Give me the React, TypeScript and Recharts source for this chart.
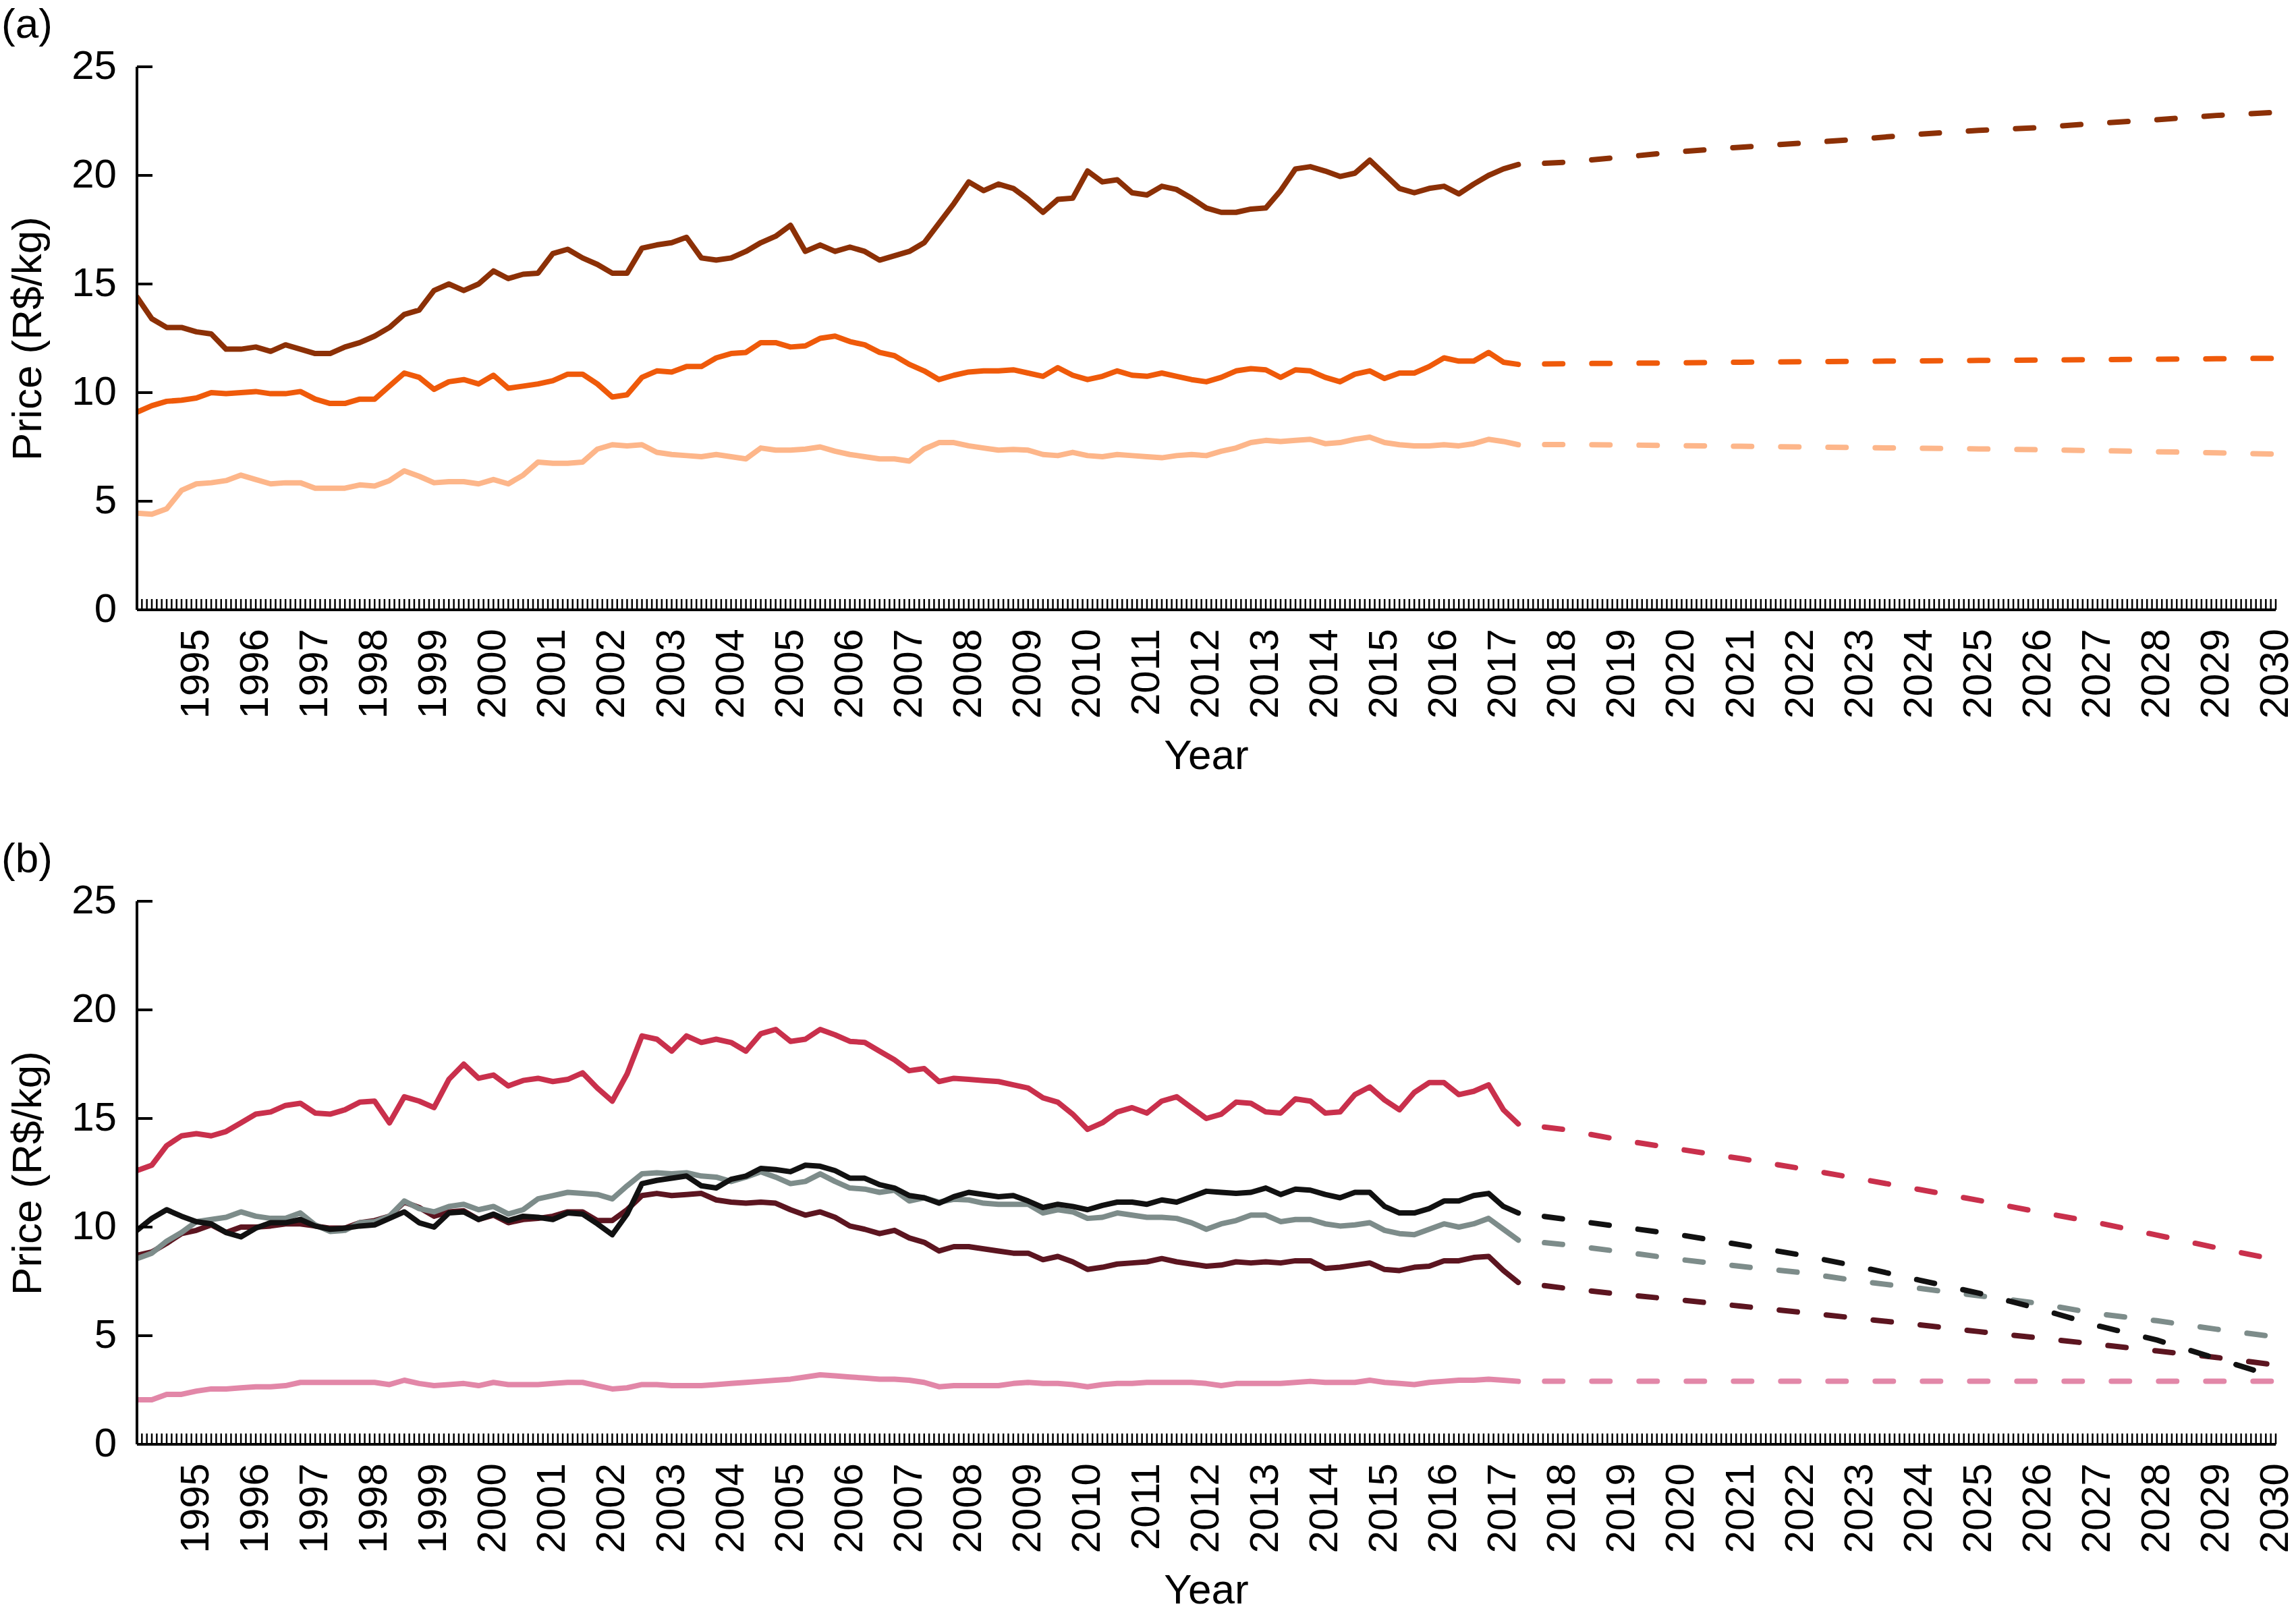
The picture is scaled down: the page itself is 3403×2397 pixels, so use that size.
import React from "react";
import { LineChart, Line, XAxis, YAxis } from "recharts";

// quarterly observations, Jan 1994 .. Apr 2017
const histTimes = Array.from({ length: 94 }, (_, i) => 1994 + i * 0.25);
// projection points (start at last observation, then yearly)
const projTimes = [2017.25, 2018, 2019, 2020, 2021, 2022, 2023, 2024, 2025, 2026, 2027, 2028, 2029, 2030];
const monthTicks = Array.from({ length: 433 }, (_, i) => 1994 + i / 12);
const yTicks = [0, 5, 10, 15, 20, 25];

// panel (a)
const brownHist = [
  14.4, 13.4, 13.0, 13.0, 12.8, 12.7, 12.0, 12.0, 12.1, 11.9, 12.2, 12.0,
  11.8, 11.8, 12.1, 12.3, 12.6, 13.0, 13.6, 13.8, 14.7, 15.0, 14.7, 15.0,
  15.6, 15.25, 15.45, 15.5, 16.4, 16.6, 16.2, 15.9, 15.5, 15.5, 16.65, 16.8,
  16.9, 17.15, 16.2, 16.1, 16.2, 16.5, 16.9, 17.2, 17.7, 16.5, 16.8, 16.5,
  16.7, 16.5, 16.1, 16.3, 16.5, 16.9, 17.8, 18.7, 19.7, 19.3, 19.6, 19.4,
  18.9, 18.3, 18.9, 18.95, 20.2, 19.7, 19.8, 19.2, 19.1, 19.5, 19.35, 18.95,
  18.5, 18.3, 18.3, 18.45, 18.5, 19.3, 20.3, 20.4, 20.2, 19.95, 20.1, 20.7,
  20.05, 19.4, 19.2, 19.4, 19.5, 19.15, 19.6, 20.0, 20.3, 20.5,
];
const brownProj = [20.5, 20.6, 20.84, 21.1, 21.3, 21.48, 21.67, 21.9, 22.07, 22.2, 22.4, 22.56, 22.76, 22.9];

const orangeHist = [
  9.1, 9.4, 9.6, 9.65, 9.75, 10.0, 9.95, 10.0, 10.05, 9.95, 9.95, 10.05,
  9.7, 9.5, 9.5, 9.7, 9.7, 10.3, 10.9, 10.7, 10.15, 10.5, 10.6, 10.4,
  10.8, 10.2, 10.3, 10.4, 10.55, 10.85, 10.85, 10.4, 9.8, 9.9, 10.7, 11.0,
  10.95, 11.2, 11.2, 11.6, 11.8, 11.85, 12.3, 12.3, 12.1, 12.15, 12.5, 12.6,
  12.35, 12.2, 11.85, 11.7, 11.3, 11.0, 10.6, 10.8, 10.95, 11.0, 11.0, 11.05,
  10.9, 10.75, 11.15, 10.8, 10.6, 10.75, 11.0, 10.8, 10.75, 10.9, 10.75, 10.6,
  10.5, 10.7, 11.0, 11.1, 11.05, 10.7, 11.05, 11.0, 10.7, 10.5, 10.85, 11.0,
  10.65, 10.9, 10.9, 11.2, 11.6, 11.45, 11.45, 11.85, 11.4, 11.3,
];
const orangeProj = [11.3, 11.33, 11.35, 11.37, 11.4, 11.42, 11.44, 11.46, 11.48, 11.5, 11.52, 11.54, 11.56, 11.58];

const peachHist = [
  4.45, 4.4, 4.65, 5.5, 5.8, 5.85, 5.95, 6.2, 6.0, 5.8, 5.85, 5.85,
  5.6, 5.6, 5.6, 5.75, 5.7, 5.95, 6.4, 6.15, 5.85, 5.9, 5.9, 5.8,
  6.0, 5.8, 6.2, 6.8, 6.75, 6.75, 6.8, 7.4, 7.6, 7.55, 7.6, 7.25,
  7.15, 7.1, 7.05, 7.15, 7.05, 6.95, 7.45, 7.35, 7.35, 7.4, 7.5, 7.3,
  7.15, 7.05, 6.95, 6.95, 6.85, 7.4, 7.7, 7.7, 7.55, 7.45, 7.35, 7.38,
  7.35, 7.15, 7.1, 7.25, 7.1, 7.05, 7.15, 7.1, 7.05, 7.0, 7.1, 7.15,
  7.1, 7.3, 7.45, 7.7, 7.8, 7.75, 7.8, 7.85, 7.65, 7.7, 7.85, 7.95,
  7.7, 7.6, 7.55, 7.55, 7.6, 7.55, 7.65, 7.85, 7.75, 7.6,
];
const peachProj = [7.6, 7.61, 7.59, 7.56, 7.53, 7.5, 7.47, 7.44, 7.41, 7.37, 7.33, 7.28, 7.23, 7.17];

// panel (b)
const redHist = [
  12.6, 12.85, 13.75, 14.2, 14.3, 14.2, 14.4, 14.8, 15.2, 15.3, 15.6, 15.7,
  15.25, 15.2, 15.4, 15.75, 15.8, 14.8, 16.0, 15.8, 15.5, 16.8, 17.5, 16.85,
  17.0, 16.5, 16.75, 16.85, 16.7, 16.8, 17.1, 16.4, 15.8, 17.05, 18.8, 18.65,
  18.1, 18.8, 18.5, 18.65, 18.5, 18.1, 18.9, 19.1, 18.55, 18.65, 19.1, 18.85,
  18.55, 18.5, 18.1, 17.7, 17.2, 17.3, 16.7, 16.85, 16.8, 16.75, 16.7, 16.55,
  16.4, 15.95, 15.75, 15.2, 14.5, 14.8, 15.3, 15.5, 15.25, 15.8, 16.0, 15.5,
  15.0, 15.2, 15.75, 15.7, 15.3, 15.25, 15.9, 15.8, 15.25, 15.3, 16.1, 16.45,
  15.85, 15.4, 16.2, 16.65, 16.65, 16.1, 16.25, 16.55, 15.4, 14.75,
];
const redProj = [14.75, 14.5, 14.0, 13.57, 13.15, 12.7, 12.22, 11.73, 11.23, 10.7, 10.2, 9.63, 9.05, 8.5];

const blackHist = [
  9.85, 10.4, 10.8, 10.5, 10.25, 10.15, 9.75, 9.55, 9.95, 10.2, 10.2, 10.35,
  10.05, 9.9, 9.95, 10.05, 10.1, 10.4, 10.7, 10.2, 10.0, 10.65, 10.7, 10.35,
  10.6, 10.3, 10.5, 10.45, 10.35, 10.65, 10.6, 10.15, 9.65, 10.6, 12.0, 12.15,
  12.25, 12.35, 11.9, 11.8, 12.2, 12.35, 12.7, 12.65, 12.55, 12.85, 12.8, 12.6,
  12.25, 12.25, 11.95, 11.8, 11.45, 11.35, 11.1, 11.4, 11.6, 11.5, 11.4, 11.45,
  11.2, 10.9, 11.05, 10.95, 10.8, 11.0, 11.15, 11.15, 11.05, 11.25, 11.15, 11.4,
  11.65, 11.6, 11.55, 11.6, 11.8, 11.5, 11.75, 11.7, 11.5, 11.35, 11.6, 11.6,
  10.95, 10.65, 10.65, 10.85, 11.2, 11.2, 11.45, 11.55, 10.95, 10.65,
];
const blackProj = [10.65, 10.38, 10.0, 9.63, 9.18, 8.72, 8.17, 7.56, 6.96, 6.25, 5.46, 4.8, 3.95, 3.1];

const grayHist = [
  8.55, 8.8, 9.35, 9.75, 10.25, 10.35, 10.45, 10.7, 10.5, 10.4, 10.4, 10.65,
  10.1, 9.8, 9.85, 10.2, 10.25, 10.5, 11.2, 10.85, 10.7, 10.95, 11.05, 10.8,
  10.95, 10.6, 10.8, 11.3, 11.45, 11.6, 11.55, 11.5, 11.3, 11.9, 12.45, 12.5,
  12.45, 12.5, 12.35, 12.3, 12.1, 12.3, 12.55, 12.3, 12.0, 12.1, 12.45, 12.1,
  11.8, 11.75, 11.6, 11.7, 11.2, 11.35, 11.15, 11.28, 11.25, 11.1, 11.05, 11.05,
  11.05, 10.65, 10.8, 10.7, 10.4, 10.45, 10.65, 10.55, 10.45, 10.45, 10.4, 10.2,
  9.9, 10.15, 10.3, 10.55, 10.55, 10.25, 10.35, 10.35, 10.15, 10.05, 10.1, 10.2,
  9.85, 9.7, 9.65, 9.9, 10.15, 10.0, 10.15, 10.4, 9.9, 9.4,
];
const grayProj = [9.4, 9.2, 8.86, 8.5, 8.19, 7.91, 7.51, 7.18, 6.84, 6.49, 6.01, 5.69, 5.3, 4.94];

const maroonHist = [
  8.7, 8.85, 9.25, 9.7, 9.85, 10.1, 9.75, 10.0, 10.0, 10.05, 10.15, 10.15,
  10.05, 9.95, 9.95, 10.2, 10.3, 10.5, 11.15, 10.9, 10.5, 10.7, 10.75, 10.35,
  10.55, 10.2, 10.35, 10.4, 10.5, 10.7, 10.7, 10.3, 10.3, 10.8, 11.45, 11.55,
  11.45, 11.5, 11.55, 11.25, 11.15, 11.1, 11.15, 11.1, 10.8, 10.55, 10.7, 10.45,
  10.05, 9.9, 9.7, 9.85, 9.5, 9.3, 8.9, 9.1, 9.1, 9.0, 8.9, 8.8,
  8.8, 8.5, 8.65, 8.4, 8.05, 8.15, 8.3, 8.35, 8.4, 8.55, 8.4, 8.3,
  8.2, 8.25, 8.4, 8.35, 8.4, 8.35, 8.45, 8.45, 8.1, 8.15, 8.25, 8.35,
  8.05, 8.0, 8.15, 8.2, 8.45, 8.45, 8.6, 8.65, 8.0, 7.45,
];
const maroonProj = [7.45, 7.2, 6.9, 6.64, 6.36, 6.08, 5.79, 5.5, 5.19, 4.9, 4.6, 4.3, 4.0, 3.65];

const pinkHist = [
  2.05, 2.05, 2.3, 2.3, 2.45, 2.55, 2.55, 2.6, 2.65, 2.65, 2.7, 2.85,
  2.85, 2.85, 2.85, 2.85, 2.85, 2.75, 2.95, 2.8, 2.7, 2.75, 2.8, 2.7,
  2.85, 2.75, 2.75, 2.75, 2.8, 2.85, 2.85, 2.7, 2.55, 2.6, 2.75, 2.75,
  2.7, 2.7, 2.7, 2.75, 2.8, 2.85, 2.9, 2.95, 3.0, 3.1, 3.2, 3.15,
  3.1, 3.05, 3.0, 3.0, 2.95, 2.85, 2.65, 2.7, 2.7, 2.7, 2.7, 2.8,
  2.85, 2.8, 2.8, 2.75, 2.65, 2.75, 2.8, 2.8, 2.85, 2.85, 2.85, 2.85,
  2.8, 2.7, 2.8, 2.8, 2.8, 2.8, 2.85, 2.9, 2.85, 2.85, 2.85, 2.95,
  2.85, 2.8, 2.75, 2.85, 2.9, 2.95, 2.95, 3.0, 2.95, 2.9,
];
const pinkProj = [2.9, 2.9, 2.9, 2.9, 2.9, 2.9, 2.9, 2.9, 2.9, 2.9, 2.9, 2.9, 2.9, 2.9];

const W = 3403;
const H = 1236;
const FONT = "'Liberation Sans', Arial, Helvetica, sans-serif";

const panelA = [
  { name: "peach", color: "#FDB68A", hist: peachHist, proj: peachProj },
  { name: "orange", color: "#EF5A0A", hist: orangeHist, proj: orangeProj },
  { name: "brown", color: "#8C3006", hist: brownHist, proj: brownProj },
];

const panelB = [
  { name: "pink", color: "#E287A8", hist: pinkHist, proj: pinkProj },
  { name: "maroon", color: "#5C1520", hist: maroonHist, proj: maroonProj },
  { name: "gray", color: "#7D8C8A", hist: grayHist, proj: grayProj },
  { name: "black", color: "#111111", hist: blackHist, proj: blackProj },
  { name: "red", color: "#C9304C", hist: redHist, proj: redProj },
];

const toPoints = (ts: number[], vs: number[]) => ts.map((t, i) => ({ t, v: vs[i] }));

const renderXTick = (props: any) => {
  const { x, y, payload } = props;
  const m = Math.round((payload.value - 1994) * 12);
  const year = 1994 + m / 12;
  const ly = y + 28;
  return (
    <g>
      <line x1={x} x2={x} y1={y} y2={y - 16} stroke="#000" strokeWidth={2.5} />
      {m % 12 === 0 && year >= 1995 && (
        <text
          x={x}
          y={ly}
          transform={`rotate(-90 ${x} ${ly})`}
          textAnchor="end"
          dy="0.3em"
          fontSize={60}
          fontFamily={FONT}
          fill="#000"
        >
          {year}
        </text>
      )}
    </g>
  );
};

const renderYTick = (props: any) => {
  const { x, y, payload } = props;
  return (
    <g>
      <line x1={x} x2={x + 23} y1={y} y2={y} stroke="#000" strokeWidth={4} />
      <text x={x - 30} y={y} dy="0.3em" textAnchor="end" fontSize={60} fontFamily={FONT} fill="#000">
        {payload.value}
      </text>
    </g>
  );
};

function Panel({ tag, series, top }: { tag: string; series: typeof panelA; top: number }) {
  return (
    <div style={{ position: "absolute", left: 0, top, width: W, height: H }}>
      <LineChart width={W} height={H} margin={{ top: 99, right: 30, bottom: 331, left: 202 }}>
        <XAxis
          type="number"
          dataKey="t"
          domain={[1994, 2030]}
          ticks={monthTicks}
          interval={0}
          height={1}
          tickSize={0}
          tickMargin={0}
          tickLine={false}
          tick={renderXTick}
          axisLine={{ stroke: "#000", strokeWidth: 4 }}
          allowDataOverflow
        />
        <YAxis
          type="number"
          domain={[0, 25]}
          ticks={yTicks}
          interval={0}
          width={1}
          tickSize={0}
          tickMargin={0}
          tickLine={false}
          tick={renderYTick}
          axisLine={{ stroke: "#000", strokeWidth: 4 }}
        />
        {series.map((s) => (
          <Line
            key={s.name + "-hist"}
            data={toPoints(histTimes, s.hist)}
            dataKey="v"
            type="linear"
            stroke={s.color}
            strokeWidth={8}
            strokeLinejoin="round"
            strokeLinecap="round"
            dot={false}
            activeDot={false}
            isAnimationActive={false}
          />
        ))}
        {series.map((s) => (
          <Line
            key={s.name + "-proj"}
            data={toPoints(projTimes, s.proj)}
            dataKey="v"
            type="linear"
            stroke={s.color}
            strokeWidth={8}
            strokeLinecap="round"
            strokeDasharray="27 43"
            strokeDashoffset={31}
            dot={false}
            activeDot={false}
            isAnimationActive={false}
          />
        ))}
      </LineChart>
      <svg
        width={W}
        height={H}
        style={{ position: "absolute", left: 0, top: 0, pointerEvents: "none" }}
        fontFamily={FONT}
      >
        <text x={2} y={56} fontSize={62} fill="#000">
          {tag}
        </text>
        <text x={61} y={502} transform="rotate(-90 61 502)" textAnchor="middle" fontSize={62} fill="#000">
          Price (R$/kg)
        </text>
        <text x={1788} y={1140} textAnchor="middle" fontSize={62} fill="#000">
          Year
        </text>
      </svg>
    </div>
  );
}

export default function App() {
  return (
    <div style={{ position: "absolute", left: 0, top: 0, width: W, height: 2397, background: "#fff" }}>
      <Panel tag="(a)" series={panelA} top={0} />
      <Panel tag="(b)" series={panelB} top={1237} />
    </div>
  );
}
